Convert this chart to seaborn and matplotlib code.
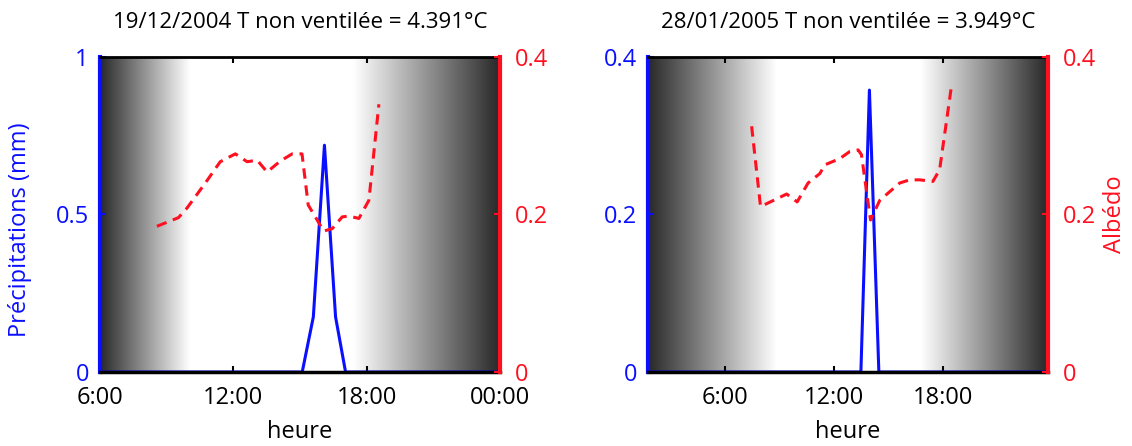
import numpy as np
import matplotlib
matplotlib.use("Agg")
import matplotlib.pyplot as plt
import seaborn as sns

# ---------------- data ----------------
# Panel 1 : 19/12/2004
p1_title = "19/12/2004 T non ventilée = 4.391°C"
p1_precip_h = [6.0, 15.1, 15.6, 16.1, 16.6, 17.05, 24.0]
p1_precip_v = [0.0, 0.0, 0.175, 0.72, 0.175, 0.0, 0.0]
p1_alb_h = [8.56, 9.53, 9.91, 10.74, 11.41, 12.09, 12.62, 13.07, 13.52, 14.12,
            14.65, 15.09, 15.37, 16.07, 16.45, 16.90, 17.20, 17.65, 18.10, 18.55]
p1_alb_v = [0.185, 0.196, 0.208, 0.240, 0.267, 0.277, 0.267, 0.269, 0.254, 0.268,
            0.277, 0.277, 0.212, 0.179, 0.182, 0.197, 0.198, 0.195, 0.218, 0.340]
p1_xticks = [6, 12, 18, 24]
p1_xticklabels = ["6:00", "12:00", "18:00", "00:00"]
p1_yticks = [0, 0.5, 1]
p1_yticklabels = ["0", "0.5", "1"]

# Panel 2 : 28/01/2005
p2_title = "28/01/2005 T non ventilée = 3.949°C"
p2_precip_h = [1.76, 13.49, 13.96, 14.48, 23.8]
p2_precip_v = [0.0, 0.0, 0.358, 0.0, 0.0]
p2_alb_h = [7.47, 7.96, 9.40, 9.98, 10.58, 11.23, 11.50, 12.33, 12.88, 13.34,
            13.52, 14.02, 14.53, 15.63, 16.18, 16.73, 17.46, 17.83, 18.48]
p2_alb_v = [0.312, 0.210, 0.226, 0.216, 0.240, 0.252, 0.263, 0.271, 0.280, 0.282,
            0.276, 0.193, 0.218, 0.240, 0.244, 0.244, 0.242, 0.257, 0.363]
p2_xticks = [6, 12, 18]
p2_xticklabels = ["6:00", "12:00", "18:00"]
p2_yticks = [0, 0.2, 0.4]
p2_yticklabels = ["0", "0.2", "0.4"]

alb_ticks = [0, 0.2, 0.4]
alb_ticklabels = ["0", "0.2", "0.4"]

# ---------------- style ----------------
sns.set_style("white")
plt.rcParams["font.family"] = ["Open Sans", "DejaVu Sans"]
plt.rcParams["axes.linewidth"] = 2
plt.rcParams["text.color"] = "black"
plt.rcParams["axes.labelcolor"] = "black"

BLUE = "#0a10ff"
RED = "#ff1020"
FS = 17
FS_TITLE = 16

fig = plt.figure(figsize=(11.32, 4.46), dpi=100)
W, H = 1132, 446


def make_axes(x0, x1, y0, y1):
    return fig.add_axes([x0 / W, 1 - y1 / H, (x1 - x0) / W, (y1 - y0) / H])


def gradient(ax, xlim, white_from, white_to, ylim):
    xs = np.linspace(xlim[0], xlim[1], 800)
    dark = 0.16
    g = np.ones_like(xs)
    left = xs < white_from
    g[left] = dark + (1 - dark) * (xs[left] - xlim[0]) / (white_from - xlim[0])
    right = xs > white_to
    g[right] = 1 - (1 - dark) * (xs[right] - white_to) / (xlim[1] - white_to)
    ax.imshow(g[np.newaxis, :], extent=(xlim[0], xlim[1], ylim[0], ylim[1]),
              aspect="auto", cmap="gray", vmin=0, vmax=1, zorder=0,
              interpolation="bilinear")


def panel(box, title, ph, pv, ah, av, xlim, xticks, xtl, pylim, yticks, ytl,
          white, left_label, right_label):
    ax = make_axes(*box)
    gradient(ax, xlim, white[0], white[1], pylim)
    sns.lineplot(x=ph, y=pv, ax=ax, color=BLUE, lw=2.2, sort=False, zorder=2)
    ax.set_xlim(*xlim)
    ax.set_ylim(*pylim)
    ax.set_xticks(xticks)
    ax.set_xticklabels(xtl, fontsize=FS, color="black")
    ax.set_yticks(yticks)
    ax.set_yticklabels(ytl, fontsize=FS, color=BLUE)
    ax.tick_params(axis="x", direction="in", length=4, width=1.5, top=True,
                   bottom=True, pad=10, colors="black", labelcolor="black")
    ax.tick_params(axis="y", direction="in", length=4, width=1.5, left=True,
                   right=False, pad=8, colors=BLUE, labelcolor=BLUE)
    ax.spines["left"].set_color(BLUE)
    ax.spines["left"].set_linewidth(3)
    ax.spines["right"].set_visible(False)
    ax.spines["top"].set_color("black")
    ax.spines["bottom"].set_color("black")
    ax.spines["bottom"].set_linewidth(2.5)
    ax.set_title(title, fontsize=FS_TITLE, pad=21, color="black")
    ax.set_xlabel("heure", fontsize=FS, labelpad=7, color="black")
    if left_label:
        ax.set_ylabel(left_label, fontsize=FS, color=BLUE)
        ax.yaxis.set_label_coords(-0.17, 0.45)
    else:
        ax.set_ylabel("")

    ax2 = ax.twinx()
    sns.lineplot(x=ah, y=av, ax=ax2, color=RED, lw=2.2, sort=False,
                 dashes=False)
    ax2.lines[-1].set_dashes([3.4, 2.2])
    ax2.set_ylim(0, 0.4)
    ax2.set_yticks(alb_ticks)
    ax2.set_yticklabels(alb_ticklabels, fontsize=FS, color=RED)
    ax2.tick_params(axis="y", direction="in", length=4, width=1.5, right=True,
                    left=False, pad=11, colors=RED, labelcolor=RED)
    for s in ["left", "top", "bottom"]:
        ax2.spines[s].set_visible(False)
    ax2.spines["right"].set_color(RED)
    ax2.spines["right"].set_linewidth(3)
    if right_label:
        ax2.set_ylabel(right_label, fontsize=FS, color=RED, labelpad=5)
    else:
        ax2.set_ylabel("")
    return ax, ax2


panel((100, 500, 57, 372), p1_title, p1_precip_h, p1_precip_v, p1_alb_h,
      p1_alb_v, (6, 24), p1_xticks, p1_xticklabels, (0, 1), p1_yticks,
      p1_yticklabels, (10.05, 17.4), "Précipitations (mm)", None)

panel((648, 1048, 57, 372), p2_title, p2_precip_h, p2_precip_v, p2_alb_h,
      p2_alb_v, (1.76, 23.8), p2_xticks, p2_xticklabels, (0, 0.4), p2_yticks,
      p2_yticklabels, (8.86, 16.8), None, "Albédo")

fig.savefig("out.png", dpi=100)
